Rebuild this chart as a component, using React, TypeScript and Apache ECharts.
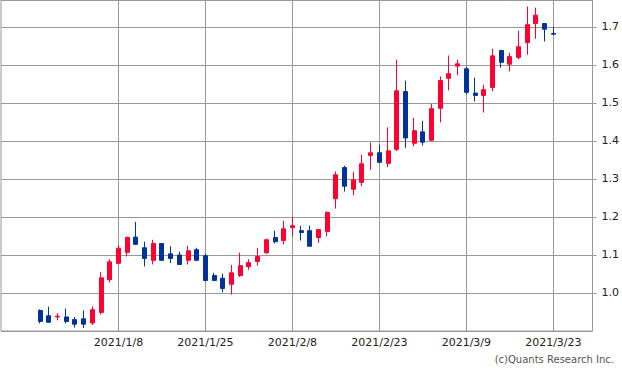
import React, { useEffect, useRef } from "react";
import * as echarts from "echarts";

const dates = [
  "2020/12/24", "2020/12/28", "2020/12/29", "2020/12/30", "2020/12/31",
  "2021/1/4", "2021/1/5", "2021/1/6", "2021/1/7", "2021/1/8",
  "2021/1/11", "2021/1/12", "2021/1/13", "2021/1/14", "2021/1/15",
  "2021/1/19", "2021/1/20", "2021/1/21", "2021/1/22", "2021/1/25",
  "2021/1/26", "2021/1/27", "2021/1/28", "2021/1/29", "2021/2/1",
  "2021/2/2", "2021/2/3", "2021/2/4", "2021/2/5", "2021/2/8",
  "2021/2/9", "2021/2/10", "2021/2/11", "2021/2/12", "2021/2/16",
  "2021/2/17", "2021/2/18", "2021/2/19", "2021/2/22", "2021/2/23",
  "2021/2/24", "2021/2/25", "2021/2/26", "2021/3/1", "2021/3/2",
  "2021/3/3", "2021/3/4", "2021/3/5", "2021/3/8", "2021/3/9",
  "2021/3/10", "2021/3/11", "2021/3/12", "2021/3/15", "2021/3/16",
  "2021/3/17", "2021/3/18", "2021/3/19", "2021/3/22", "2021/3/23",
];

const opens = [
  0.954, 0.940, 0.937, 0.937, 0.930, 0.932, 0.921, 0.949, 1.035, 1.078,
  1.107, 1.147, 1.119, 1.086, 1.130, 1.103, 1.100, 1.086, 1.114, 1.098,
  1.046, 1.039, 1.023, 1.046, 1.069, 1.083, 1.106, 1.146, 1.138, 1.172,
  1.164, 1.164, 1.146, 1.162, 1.248, 1.330, 1.273, 1.291, 1.362, 1.369,
  1.341, 1.378, 1.530, 1.394, 1.424, 1.402, 1.486, 1.565, 1.597, 1.590,
  1.526, 1.520, 1.541, 1.638, 1.602, 1.620, 1.659, 1.709, 1.709, 1.683,
];
const closes = [
  0.925, 0.923, 0.939, 0.925, 0.918, 0.918, 0.956, 1.040, 1.082, 1.118,
  1.146, 1.128, 1.091, 1.130, 1.086, 1.091, 1.075, 1.111, 1.086, 1.033,
  1.033, 1.012, 1.053, 1.072, 1.080, 1.096, 1.140, 1.135, 1.169, 1.177,
  1.159, 1.123, 1.167, 1.212, 1.311, 1.281, 1.298, 1.340, 1.369, 1.344,
  1.374, 1.532, 1.408, 1.427, 1.397, 1.485, 1.559, 1.577, 1.603, 1.528,
  1.520, 1.535, 1.624, 1.607, 1.622, 1.648, 1.706, 1.731, 1.694, 1.681,
];
const lows = [
  0.920, 0.922, 0.928, 0.920, 0.909, 0.908, 0.916, 0.943, 1.028, 1.077,
  1.096, 1.127, 1.070, 1.075, 1.084, 1.079, 1.075, 1.075, 1.085, 1.031,
  1.033, 1.002, 0.996, 1.042, 1.061, 1.072, 1.103, 1.130, 1.128, 1.149,
  1.138, 1.123, 1.132, 1.149, 1.222, 1.267, 1.257, 1.281, 1.324, 1.342,
  1.331, 1.373, 1.382, 1.386, 1.388, 1.399, 1.449, 1.533, 1.573, 1.523,
  1.504, 1.475, 1.531, 1.593, 1.583, 1.615, 1.627, 1.669, 1.662, 1.680,
];
const highs = [
  0.957, 0.964, 0.947, 0.959, 0.937, 0.954, 0.965, 1.055, 1.089, 1.126,
  1.149, 1.187, 1.135, 1.140, 1.131, 1.123, 1.109, 1.124, 1.119, 1.103,
  1.053, 1.051, 1.074, 1.106, 1.089, 1.119, 1.143, 1.164, 1.190, 1.200,
  1.177, 1.177, 1.167, 1.215, 1.320, 1.335, 1.319, 1.364, 1.396, 1.390,
  1.436, 1.614, 1.559, 1.461, 1.453, 1.498, 1.570, 1.625, 1.614, 1.596,
  1.567, 1.548, 1.643, 1.640, 1.632, 1.690, 1.754, 1.751, 1.709, 1.700,
];

const labelDates = ["2021/1/8", "2021/1/25", "2021/2/8", "2021/2/23", "2021/3/9", "2021/3/23"];

const PAD_BEFORE = 4;
const PAD_AFTER = 4;

export default function App() {
  const ref = useRef<HTMLDivElement>(null);

  useEffect(() => {
    if (!ref.current) return;
    const chart = echarts.init(ref.current, undefined, { renderer: "svg" });

    const categories: string[] = [];
    const data: any[] = [];
    for (let i = 0; i < PAD_BEFORE; i++) {
      categories.push("pre" + i);
      data.push("-");
    }
    dates.forEach((d, i) => {
      categories.push(d);
      data.push([opens[i], closes[i], lows[i], highs[i]]);
    });
    for (let i = 0; i < PAD_AFTER; i++) {
      categories.push("post" + i);
      data.push("-");
    }
    const showIdx = new Set(labelDates.map((d) => categories.indexOf(d)));
    const isShown = (index: number) => showIdx.has(index);

    const fontFamily = "DejaVu Sans";
    const gridTop = 0;
    const gridBottom = 42;
    const gridHeight = 373 - gridTop - gridBottom;

    chart.setOption({
      animation: false,
      backgroundColor: "#ffffff",
      grid: {
        left: 1,
        right: 26,
        top: gridTop,
        bottom: gridBottom,
        show: true,
        borderColor: "#999999",
        borderWidth: 1,
        containLabel: false,
      },
      xAxis: {
        type: "category",
        data: categories,
        boundaryGap: true,
        axisLine: { show: false },
        axisTick: {
          show: true,
          alignWithLabel: true,
          inside: true,
          length: gridHeight,
          interval: (index: number) => isShown(index),
          lineStyle: { color: "#999999", width: 1 },
        },
        axisLabel: {
          interval: (index: number) => isShown(index),
          color: "#222222",
          fontFamily,
          fontSize: 11,
          margin: 6,
        },
        splitLine: { show: false },
      },
      yAxis: {
        type: "value",
        position: "right",
        min: 0.9,
        max: 1.771,
        splitNumber: 8,
        minInterval: 0.1,
        maxInterval: 0.1,
        scale: true,
        axisLine: { show: false },
        axisTick: {
          show: true,
          inside: false,
          length: 4,
          lineStyle: { color: "#999999" },
        },
        axisLabel: {
          showMinLabel: false,
          showMaxLabel: false,
          color: "#222222",
          fontFamily,
          fontSize: 11,
          margin: 9,
          formatter: (v: number) => v.toFixed(1),
        },
        splitLine: {
          show: true,
          lineStyle: { color: "#999999", width: 1 },
        },
      },
      series: [
        {
          type: "candlestick",
          data,
          barWidth: 4.5,
          itemStyle: {
            color: "#ff0033",
            color0: "#003399",
            borderColor: "#ff0033",
            borderColor0: "#003399",
            borderWidth: 1,
          },
        },
      ],
      graphic: [
        {
          type: "text",
          right: 8,
          top: 354,
          style: {
            text: "(c)Quants Research Inc.",
            fill: "#555555",
            font: `10px ${fontFamily}`,
          },
        },
      ],
    });

    return () => {
      chart.dispose();
    };
  }, []);

  return (
    <div
      ref={ref}
      style={{ position: "fixed", left: 0, top: 0, width: 622, height: 373, background: "#fff" }}
    />
  );
}
